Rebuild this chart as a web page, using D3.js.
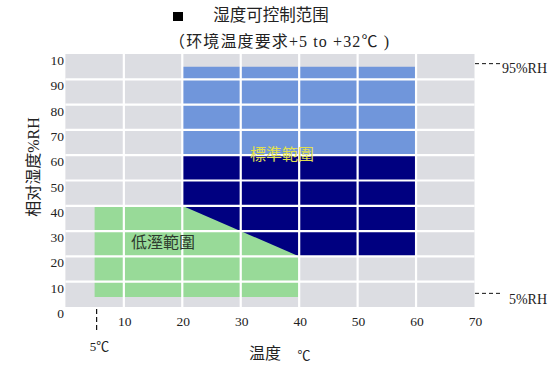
<!DOCTYPE html>
<html>
<head>
<meta charset="utf-8">
<script src="https://cdn.jsdelivr.net/npm/d3@7"></script>
<style>
  html, body { margin: 0; padding: 0; background: #fff; }
  svg { display: block; }
  text { font-family: "Liberation Serif", "Noto Sans CJK SC", serif; }
</style>
</head>
<body>
<svg id="chart" width="555" height="373"></svg>
<script>
// ---- data ----
const xTicks = [10, 20, 30, 40, 50, 60, 70];
const xTickLabels = ["10", "20", "30", "40", "50", "60", "70"];
const yTicks = [0, 10, 20, 30, 40, 50, 60, 70, 80, 90, 100];
const yTickLabels = ["0", "10", "20", "30", "40", "50", "60", "70", "80", "90", "10"];
const gridX = [10, 20, 30, 40, 50, 60];
const gridY = [10, 20, 30, 40, 50, 60, 70, 80, 90];
// regions: [temperature °C, humidity %RH]
const lowRange = [[5, 40], [40, 40], [40, 4], [5, 4]];
const standardUpper = [[20, 95], [60, 95], [60, 60], [20, 60]];
const standardLower = [[20, 60], [60, 60], [60, 20], [40, 20], [20, 40]];
const markerTemp = 5;
const markerRH = [95, 5];
const markerRHLabels = ["95%RH", "5%RH"];

// ---- layout ----
const svg = d3.select("#chart");
const x = d3.scaleLinear().domain([0, 70]).range([65.4, 474.5]);
const y = d3.scaleLinear().domain([0, 100]).range([307, 54]);

// background
svg.append("rect")
  .attr("x", x(0)).attr("y", y(100))
  .attr("width", x(70) - x(0)).attr("height", y(0) - y(100))
  .attr("fill", "#dcdde2");

const line = d3.line().x(d => x(d[0])).y(d => y(d[1]));

svg.append("path").attr("d", line(lowRange) + "Z").attr("fill", "#98da98");
svg.append("path").attr("d", line(standardUpper) + "Z").attr("fill", "#7096db");
svg.append("path").attr("d", line(standardLower) + "Z").attr("fill", "#000080");

// white grid
svg.append("g").selectAll("line").data(gridX).join("line")
  .attr("x1", d => x(d)).attr("x2", d => x(d))
  .attr("y1", y(100)).attr("y2", y(0))
  .attr("stroke", "#fff").attr("stroke-width", 2.2);
svg.append("g").selectAll("line").data(gridY).join("line")
  .attr("x1", x(0)).attr("x2", x(70))
  .attr("y1", d => y(d)).attr("y2", d => y(d))
  .attr("stroke", "#fff").attr("stroke-width", 2.2);

// y tick labels (placed just below each grid line, as in the original)
svg.append("g").selectAll("text").data(yTicks).join("text")
  .attr("x", 64).attr("y", d => y(d) + 8)
  .attr("text-anchor", "end").attr("dominant-baseline", "middle")
  .attr("font-size", 13.5).attr("fill", "#222")
  .text((d, i) => yTickLabels[i]);

// x tick labels
svg.append("g").selectAll("text").data(xTicks).join("text")
  .attr("x", d => x(d) + 1).attr("y", 323)
  .attr("text-anchor", "middle").attr("dominant-baseline", "middle")
  .attr("font-size", 13.5).attr("fill", "#222")
  .text((d, i) => xTickLabels[i]);

// 5°C marker
svg.append("line")
  .attr("x1", x(markerTemp) + 2).attr("x2", x(markerTemp) + 2)
  .attr("y1", 309).attr("y2", 332)
  .attr("stroke", "#111").attr("stroke-width", 1.2).attr("stroke-dasharray", "5,3");
svg.append("text").attr("x", x(markerTemp) + 5).attr("y", 348)
  .attr("text-anchor", "middle").attr("dominant-baseline", "middle")
  .attr("font-size", 13).attr("fill", "#222").text("5℃");

// RH markers on the right
markerRH.forEach((v, i) => {
  svg.append("line")
    .attr("x1", 475).attr("x2", 501)
    .attr("y1", y(v) - (i === 0 ? 3 : 1)).attr("y2", y(v) - (i === 0 ? 3 : 1))
    .attr("stroke", "#111").attr("stroke-width", 1).attr("stroke-dasharray", "4,3");
  svg.append("text")
    .attr("x", 547).attr("y", y(v) + (i === 0 ? 3 : 6))
    .attr("text-anchor", "end").attr("dominant-baseline", "middle")
    .attr("font-size", 14).attr("fill", "#222").text(markerRHLabels[i]);
});

// region labels
svg.append("text").attr("x", 282).attr("y", 156)
  .attr("text-anchor", "middle").attr("dominant-baseline", "middle")
  .attr("font-size", 16).attr("fill", "#e0e050").text("標準範圍");
svg.append("text").attr("x", 163).attr("y", 244)
  .attr("text-anchor", "middle").attr("dominant-baseline", "middle")
  .attr("font-size", 16).attr("fill", "#2e3a2e").text("低溼範圍");

// titles
svg.append("rect").attr("x", 173).attr("y", 12).attr("width", 10).attr("height", 9).attr("fill", "#000");
svg.append("text").attr("x", 271).attr("y", 17)
  .attr("text-anchor", "middle").attr("dominant-baseline", "middle")
  .attr("font-size", 16.5).attr("fill", "#222").text("湿度可控制范围");
svg.append("text").attr("x", 169).attr("y", 43)
  .attr("text-anchor", "start").attr("dominant-baseline", "middle")
  .attr("textLength", 220).attr("lengthAdjust", "spacing")
  .attr("font-size", 16).attr("fill", "#222").text("（环境温度要求+5 to +32℃ )");

// axis titles
svg.append("text").attr("x", 265).attr("y", 355)
  .attr("text-anchor", "middle").attr("dominant-baseline", "middle")
  .attr("font-size", 16).attr("fill", "#222").text("温度");
svg.append("text").attr("x", 304).attr("y", 357)
  .attr("text-anchor", "middle").attr("dominant-baseline", "middle")
  .attr("font-size", 13).attr("fill", "#222").text("℃");
svg.append("text")
  .attr("transform", "translate(35,167) rotate(-90)")
  .attr("text-anchor", "middle").attr("dominant-baseline", "middle")
  .attr("font-size", 16).attr("fill", "#222").text("相对湿度%RH");
</script>
</body>
</html>
